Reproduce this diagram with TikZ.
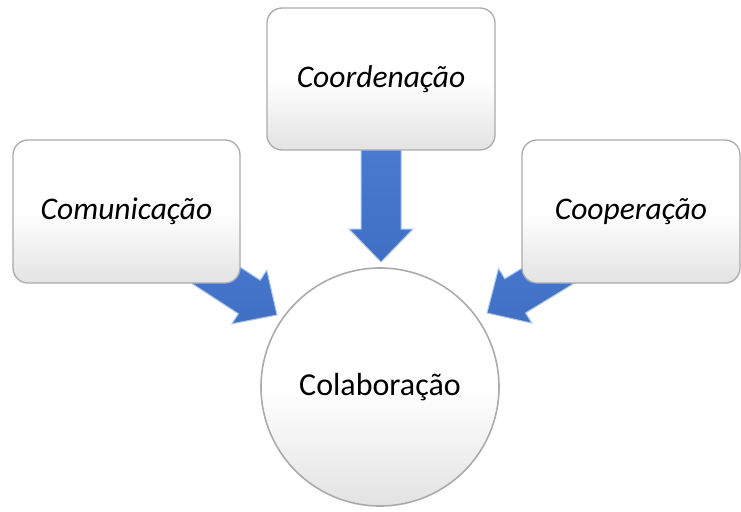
\documentclass[tikz,border=0pt]{standalone}
\usepackage{fontspec}
\setmainfont{Carlito}
\usetikzlibrary{calc}
\definecolor{arrowblue}{HTML}{4A7BD0}
\definecolor{arrowdark}{HTML}{406FC4}
\definecolor{arrowedge}{HTML}{A9C6F2}
\definecolor{boxedge}{HTML}{ABABAB}
\tikzset{
  card/.style={draw=boxedge, line width=1.3pt, rounded corners=15pt,
    top color=white, bottom color=black!11, middle color=white,
    font=\fontsize{31.5}{36}\selectfont\itshape, inner sep=0pt},
  hub/.style={draw=boxedge, line width=1.6pt, circle, minimum size=238pt,
    top color=white, bottom color=black!11, middle color=white,
    font=\fontsize{32}{38}\selectfont, inner sep=0pt},
  blockarrow/.style={top color=arrowblue, bottom color=arrowdark,
    draw=arrowedge, line width=1pt, line join=miter}
}
\newcommand\drawblockarrow[2]{%
  \coordinate (hb) at ($(#2)!33pt!(#1)$);
  \path[blockarrow]
    ($(#1)!20pt!90:(#2)$) -- ($(hb)!20pt!-90:(#1)$) -- ($(hb)!32pt!-90:(#1)$)
    -- (#2) -- ($(hb)!32pt!90:(#1)$) -- ($(hb)!20pt!90:(#1)$)
    -- ($(#1)!20pt!-90:(#2)$) -- cycle;
}
\begin{document}
\begin{tikzpicture}[x=1pt,y=-1pt]
\useasboundingbox (0,0) rectangle (741,511);
% arrow end points
\coordinate (tailL) at (174,248);
\coordinate (tipL) at (277,315);
\coordinate (tailM) at (381,140);
\coordinate (tipM) at (381,262);
\coordinate (tailR) at (592,249);
\coordinate (tipR) at (487,313);
\drawblockarrow{tailL}{tipL}
\drawblockarrow{tailM}{tipM}
\drawblockarrow{tailR}{tipR}
% boxes
\node[card, minimum width=227pt, minimum height=143pt] (com) at (126.5,211.5) {Comunicação};
\node[card, minimum width=228pt, minimum height=142pt] (coord) at (381,79) {Coordenação};
\node[card, minimum width=218pt, minimum height=143pt] (coop) at (631,211.5) {Cooperação};
\node[hub] (col) at (380,387) {Colaboração};
\end{tikzpicture}
\end{document}
